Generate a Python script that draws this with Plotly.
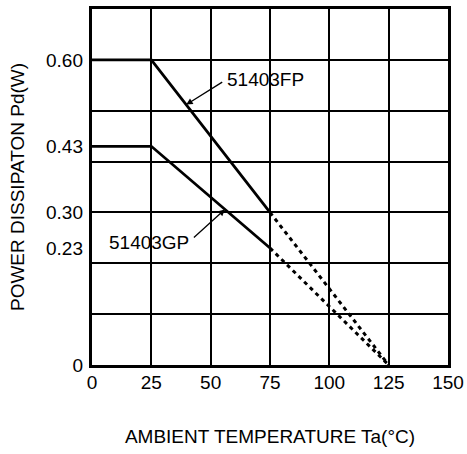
import plotly.graph_objects as go

# Data
ta_solid = [0, 25, 75]
pd_fp_solid = [0.60, 0.60, 0.30]
pd_gp_solid = [0.43, 0.43, 0.23]
ta_dotted = [75, 125]
pd_fp_dotted = [0.30, 0.0]
pd_gp_dotted = [0.23, 0.0]

x_ticks = [0, 25, 50, 75, 100, 125, 150]
y_tick_vals = [0, 0.23, 0.30, 0.43, 0.60]
y_tick_text = ["0", "0.23", "0.30", "0.43", "0.60"]

FONT = "Liberation Sans, Arial, sans-serif"
FS = 19

fig = go.Figure()
line_solid = dict(color="black", width=2.8)
line_dot = dict(color="black", width=3, dash="4px,4px")

fig.add_trace(go.Scatter(x=ta_solid, y=pd_fp_solid, mode="lines", line=line_solid, showlegend=False))
fig.add_trace(go.Scatter(x=ta_solid, y=pd_gp_solid, mode="lines", line=line_solid, showlegend=False))
fig.add_trace(go.Scatter(x=ta_dotted, y=pd_fp_dotted, mode="lines", line=line_dot, showlegend=False))
fig.add_trace(go.Scatter(x=ta_dotted, y=pd_gp_dotted, mode="lines", line=line_dot, showlegend=False))
# invisible trace to activate the labelled y axis
fig.add_trace(go.Scatter(x=[0], y=[0], yaxis="y2", mode="markers",
                         marker=dict(opacity=0), showlegend=False, hoverinfo="skip"))

fig.update_layout(
    width=467, height=454, autosize=False,
    margin=dict(l=92, r=19, t=9, b=89, autoexpand=False),
    paper_bgcolor="white", plot_bgcolor="white",
    font=dict(family=FONT, size=FS, color="black"),
    xaxis=dict(
        range=[0, 150], tickvals=x_ticks, ticks="", showgrid=True,
        gridcolor="black", gridwidth=1.5, zeroline=False,
        showline=True, linecolor="black", linewidth=3, mirror=True,
        tickfont=dict(size=FS), ticklabelstandoff=-2, automargin=False,
        title=dict(text="AMBIENT TEMPERATURE Ta(°C)", font=dict(size=FS), standoff=38),
    ),
    yaxis=dict(
        range=[0, 0.7], dtick=0.1, showgrid=True, gridcolor="black", gridwidth=1.5,
        zeroline=False, showticklabels=False, ticks="", automargin=False,
        showline=True, linecolor="black", linewidth=3, mirror=True,
    ),
    yaxis2=dict(
        range=[0, 0.7], overlaying="y", side="left", tickvals=y_tick_vals,
        ticktext=y_tick_text, showgrid=False, zeroline=False, ticks="",
        tickfont=dict(size=FS), ticklabelstandoff=8, automargin=False,
        title=dict(text="POWER DISSIPATON Pd(W)", font=dict(size=FS), standoff=16),
    ),
)

# Labels with leader arrows
fig.add_annotation(x=56.2, y=0.562, text="51403FP", showarrow=False,
                   xanchor="left", yanchor="middle", font=dict(size=FS))
fig.add_annotation(x=39.7, y=0.512, ax=55.5, ay=0.558, axref="x", ayref="y",
                   text="", showarrow=True, arrowhead=2, arrowsize=1, arrowwidth=1.3,
                   arrowcolor="black")
fig.add_annotation(x=6.3, y=0.24, text="51403GP", showarrow=False,
                   xanchor="left", yanchor="middle", font=dict(size=FS))
fig.add_annotation(x=56.0, y=0.306, ax=42.3, ay=0.248, axref="x", ayref="y",
                   text="", showarrow=True, arrowhead=2, arrowsize=1, arrowwidth=1.3,
                   arrowcolor="black")

fig.write_html("out.html", config={"responsive": False, "displayModeBar": False},
               post_script="document.body.style.margin='0';document.body.style.overflow='hidden';")
